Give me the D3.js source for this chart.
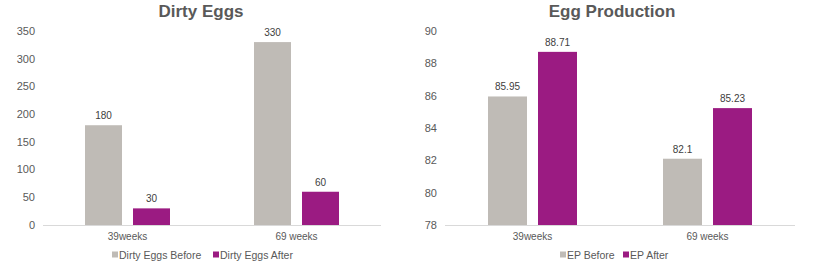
<!DOCTYPE html>
<html>
<head>
<meta charset="utf-8">
<script src="https://cdn.jsdelivr.net/npm/d3@7"></script>
<style>
  body { margin: 0; background: #fff; }
  svg { display: block; font-family: "Liberation Sans", Arial, sans-serif; }
</style>
</head>
<body>
<svg width="814" height="265"></svg>
<script>
// categories shared by both charts
const categories = ["39weeks", "69 weeks"];

// Dirty Eggs
const dirtyBefore = [180, 330];
const dirtyAfter = [30, 60];
const dirtyTicks = [0, 50, 100, 150, 200, 250, 300, 350];

// Egg Production
const epBefore = [85.95, 82.1];
const epAfter = [88.71, 85.23];
const epTicks = [78, 80, 82, 84, 86, 88, 90];

const grey = "#bfbbb6";
const purple = "#9b1b82";
const textColor = "#595959";

const svg = d3.select("svg");

function drawChart(opts) {
  const g = svg.append("g");

  const x = d3.scaleBand()
    .domain(categories)
    .range([opts.x0, opts.x1]);

  const y = d3.scaleLinear()
    .domain(opts.domain)
    .range([225, 31]);

  // title
  g.append("text")
    .attr("x", opts.titleX)
    .attr("y", 17)
    .attr("text-anchor", "middle")
    .attr("font-size", 17)
    .attr("font-weight", "bold")
    .attr("fill", textColor)
    .text(opts.title);

  // y tick labels (no axis line)
  g.selectAll(".ytick")
    .data(opts.ticks)
    .join("text")
    .attr("class", "ytick")
    .attr("x", opts.labelX)
    .attr("y", d => y(d))
    .attr("dy", "0.35em")
    .attr("text-anchor", "end")
    .attr("font-size", 11)
    .attr("fill", textColor)
    .text(d => d);

  // bars
  const series = [
    { values: opts.before, color: grey, name: opts.names[0] },
    { values: opts.after, color: purple, name: opts.names[1] }
  ];
  const bw = opts.barWidth, gap = opts.gap;

  series.forEach((s, i) => {
    const off = i === 0 ? -gap / 2 - bw : gap / 2;
    g.selectAll(".bar" + i)
      .data(categories)
      .join("rect")
      .attr("x", (c) => x(c) + x.bandwidth() / 2 + off)
      .attr("y", (c, j) => y(s.values[j]))
      .attr("width", bw)
      .attr("height", (c, j) => y(opts.domain[0]) - y(s.values[j]))
      .attr("fill", s.color);

    g.selectAll(".lbl" + i)
      .data(categories)
      .join("text")
      .attr("x", (c) => x(c) + x.bandwidth() / 2 + off + bw / 2)
      .attr("y", (c, j) => y(s.values[j]) - 6)
      .attr("text-anchor", "middle")
      .attr("font-size", 10)
      .attr("fill", "#404040")
      .text((c, j) => s.values[j]);
  });

  // x axis line
  g.append("line")
    .attr("x1", opts.x0).attr("x2", opts.x1)
    .attr("y1", 225.5).attr("y2", 225.5)
    .attr("stroke", "#d9d9d9");

  // category labels
  g.selectAll(".xlbl")
    .data(categories)
    .join("text")
    .attr("x", c => x(c) + x.bandwidth() / 2)
    .attr("y", 240)
    .attr("text-anchor", "middle")
    .attr("font-size", 10)
    .attr("fill", textColor)
    .text(c => c);

  // legend
  series.forEach((s, i) => {
    const lx = opts.legendX[i];
    g.append("rect")
      .attr("x", lx).attr("y", 251.5)
      .attr("width", 6).attr("height", 6)
      .attr("fill", s.color);
    g.append("text")
      .attr("x", lx + 7).attr("y", 258.5)
      .attr("font-size", 10.5)
      .attr("fill", textColor)
      .text(s.name);
  });
}

drawChart({
  title: "Dirty Eggs", titleX: 201,
  x0: 43, x1: 381, labelX: 35,
  domain: [0, 350], ticks: dirtyTicks,
  before: dirtyBefore, after: dirtyAfter,
  barWidth: 37, gap: 11,
  names: ["Dirty Eggs Before", "Dirty Eggs After"],
  legendX: [112, 213]
});

drawChart({
  title: "Egg Production", titleX: 612,
  x0: 445, x1: 795, labelX: 437,
  domain: [78, 90], ticks: epTicks,
  before: epBefore, after: epAfter,
  barWidth: 39, gap: 11,
  names: ["EP Before", "EP After"],
  legendX: [560, 623]
});
</script>
</body>
</html>
